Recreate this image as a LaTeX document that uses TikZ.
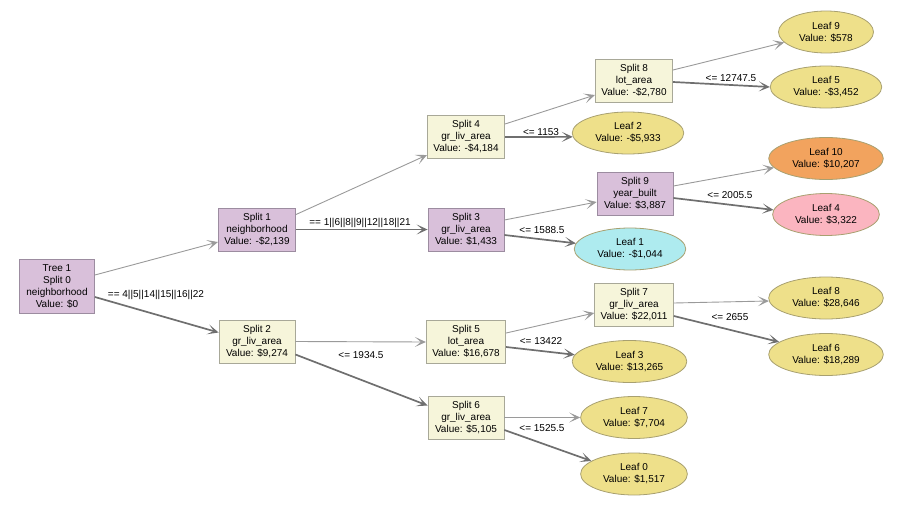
\documentclass[tikz,border=0pt]{standalone}
\usepackage{fontspec}
\setmainfont{Liberation Sans}
\usetikzlibrary{arrows.meta,shapes.geometric}
\definecolor{purp}{HTML}{D9C0DA}
\definecolor{purpline}{HTML}{9C8CA0}
\definecolor{beige}{HTML}{F6F5DA}
\definecolor{beigeline}{HTML}{A8A898}
\definecolor{khaki}{HTML}{EEE08A}
\definecolor{khakiline}{HTML}{A8A070}
\definecolor{orangeleaf}{HTML}{F2A35E}
\definecolor{pinkleaf}{HTML}{FBB5C0}
\definecolor{cyanleaf}{HTML}{AEEBEF}
\definecolor{thinedge}{HTML}{9A9A9A}
\definecolor{thickedge}{HTML}{6F6F6F}
\tikzset{
  every node/.style={font=\fontsize{10}{12}\selectfont, align=center},
  splitbox/.style={rectangle, draw=beigeline, fill=beige, line width=0.8pt, minimum width=76pt, minimum height=43pt, inner xsep=6pt},
  purpbox/.style={splitbox, draw=purpline, fill=purp},
  leaf/.style={ellipse, draw=khakiline, fill=khaki, line width=0.8pt, inner xsep=6.8pt, minimum height=42pt},
  thinarrow/.style={draw=thinedge, line width=0.9pt, -{Stealth[length=11pt,width=10pt,inset=6pt]}},
  thickarrow/.style={draw=thickedge, line width=1.7pt, -{Stealth[length=11pt,width=10pt,inset=6pt]}},
  elabel/.style={font=\fontsize{10}{12}\selectfont, inner sep=1pt}
}
\begin{document}
\begin{tikzpicture}[x=1pt,y=-1pt]
\useasboundingbox (0,0) rectangle (900,506);
% split nodes
\node[purpbox, minimum width=75pt, minimum height=54pt] (t1) at (57,286) {Tree 1\\Split 0\\neighborhood\\Value: \$0};
\node[purpbox] (s1) at (257,229.5) {Split 1\\neighborhood\\Value: -\$2,139};
\node[splitbox] (s2) at (257,341.5) {Split 2\\gr\_liv\_area\\Value: \$9,274};
\node[splitbox] (s4) at (466,137) {Split 4\\gr\_liv\_area\\Value: -\$4,184};
\node[purpbox] (s3) at (466,229.5) {Split 3\\gr\_liv\_area\\Value: \$1,433};
\node[splitbox] (s5) at (466,342) {Split 5\\lot\_area\\Value: \$16,678};
\node[splitbox] (s6) at (466,417.5) {Split 6\\gr\_liv\_area\\Value: \$5,105};
\node[splitbox] (s8) at (634,81) {Split 8\\lot\_area\\Value: -\$2,780};
\node[purpbox] (s9) at (635,193.5) {Split 9\\year\_built\\Value: \$3,887};
\node[splitbox] (s7) at (634,305) {Split 7\\gr\_liv\_area\\Value: \$22,011};
% leaves
\node[leaf] (l9) at (826,32) {Leaf 9\\Value: \$578};
\node[leaf] (l5) at (826,87) {Leaf 5\\Value: -\$3,452};
\node[leaf] (l2) at (628,133) {Leaf 2\\Value: -\$5,933};
\node[leaf, fill=orangeleaf] (l10) at (826,158.5) {Leaf 10\\Value: \$10,207};
\node[leaf, fill=pinkleaf] (l4) at (826,214.5) {Leaf 4\\Value: \$3,322};
\node[leaf, fill=cyanleaf] (l1) at (630,249) {Leaf 1\\Value: -\$1,044};
\node[leaf] (l8) at (826,298) {Leaf 8\\Value: \$28,646};
\node[leaf] (l6) at (826,354.5) {Leaf 6\\Value: \$18,289};
\node[leaf] (l3) at (629.5,361.5) {Leaf 3\\Value: \$13,265};
\node[leaf] (l7) at (634,417.5) {Leaf 7\\Value: \$7,704};
\node[leaf] (l0) at (634,474) {Leaf 0\\Value: \$1,517};
% edges
\draw[thinarrow] ([yshift=11pt]t1.east) -- ([yshift=-12.5pt]s1.west);
\draw[thickarrow] ([yshift=-11pt]t1.east) -- ([yshift=9pt]s2.west);
\node[elabel] (e0) at (156,295) {== 4||5||14||15||16||22};

\draw[thinarrow] ([yshift=15pt]s1.east) -- ([yshift=-18pt]s4.west);
\draw[thickarrow] (s1.east) -- (s3.west);
\node[elabel] (e1) at (360,223) {== 1||6||8||9||12||18||21};

\draw[thinarrow] (s2.east) -- (s5.west);
\draw[thickarrow] ([yshift=-13pt]s2.east) -- ([yshift=12pt]s6.west);
\node[elabel] (e2) at (361,355) {<= 1934.5};

\draw[thinarrow] ([yshift=13pt]s4.east) -- ([yshift=-14pt]s8.west);
\draw[thickarrow] (s4.east) -- (l2.184);
\node[elabel] (e4) at (541,132) {<= 1153};

\draw[thinarrow] ([yshift=9.5pt]s3.east) -- ([yshift=-8.5pt]s9.west);
\draw[thickarrow] ([yshift=-5.5pt]s3.east) -- (l1.174);
\node[elabel] (e3) at (542,230) {<= 1588.5};

\draw[thinarrow] ([yshift=9pt]s5.east) -- ([yshift=-8pt]s7.west);
\draw[thickarrow] ([yshift=-5pt]s5.east) -- (l3.173);
\node[elabel] (e5) at (541,341) {<= 13422};

\draw[thinarrow] (s6.east) -- (l7.west);
\draw[thickarrow] ([yshift=-12.5pt]s6.east) -- (l0.163);
\node[elabel] (e6) at (542,428) {<= 1525.5};

\draw[thinarrow] ([yshift=11pt]s8.east) -- (l9.194);
\draw[thickarrow] ([yshift=-1pt]s8.east) -- (l5.west);
\node[elabel] (e8) at (731,78) {<= 12747.5};

\draw[thinarrow] ([yshift=7.5pt]s9.east) -- (l10.190);
\draw[thickarrow] ([yshift=-4.5pt]s9.east) -- (l4.175);
\node[elabel] (e9) at (730,195) {<= 2005.5};

\draw[thinarrow] ([yshift=2pt]s7.east) -- (l8.183);
\draw[thickarrow] ([yshift=-11pt]s7.east) -- (l6.165);
\node[elabel] (e7) at (730,317) {<= 2655};
\end{tikzpicture}
\end{document}
